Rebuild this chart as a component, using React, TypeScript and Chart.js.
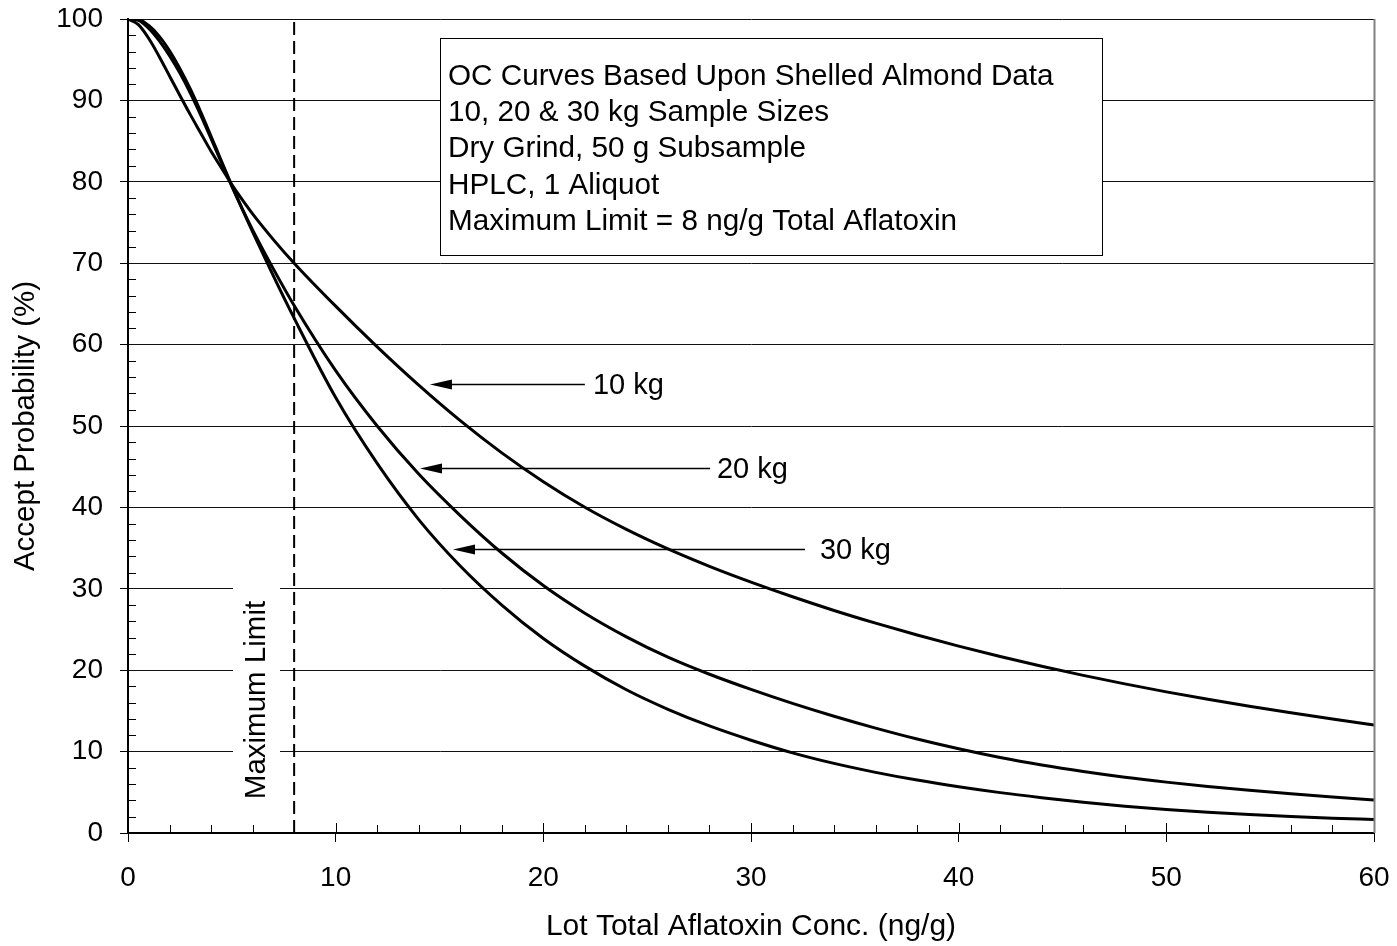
import React, { useEffect, useRef } from "react";
import { Chart, registerables } from "chart.js";

Chart.register(...registerables);

// Lot total aflatoxin concentration (ng/g)
const concentrations = [0, 0.5, 1, 1.5, 2, 2.5, 3, 3.5, 4, 4.5, 5, 5.5, 6, 7, 8, 10, 12, 14, 16, 18, 20, 22, 24, 26, 28, 30, 32, 34, 36, 38, 40, 42, 44, 46, 48, 50, 52, 54, 56, 58, 60];
// Accept probability (%) for each sample size
const accept10kg = [100, 99.3, 97.6, 95.4, 93.0, 90.6, 88.25, 86.0, 83.75, 81.7, 79.65, 77.8, 76.05, 72.9, 70.0, 64.72, 59.72, 55.02, 50.66, 46.7, 43.16, 40.02, 37.3, 34.9, 32.76, 30.82, 29.02, 27.34, 25.78, 24.32, 22.96, 21.68, 20.48, 19.36, 18.32, 17.34, 16.42, 15.56, 14.76, 14.0, 13.28];
const accept20kg = [100, 99.85, 98.85, 97.35, 95.5, 93.35, 90.9, 88.2, 85.3, 82.35, 79.45, 76.7, 74.1, 69.3, 64.8, 56.8, 50.0, 44.1, 39.0, 34.4, 30.4, 27.0, 24.1, 21.6, 19.5, 17.64, 15.92, 14.34, 12.88, 11.54, 10.34, 9.27, 8.35, 7.55, 6.85, 6.25, 5.72, 5.25, 4.82, 4.42, 4.05];
const accept30kg = [100, 99.95, 99.2, 97.9, 96.1, 93.9, 91.4, 88.6, 85.6, 82.55, 79.55, 76.65, 73.85, 68.45, 63.25, 53.5, 45.4, 38.5, 32.8, 28.0, 23.9, 20.5, 17.6, 15.2, 13.15, 11.4, 9.85, 8.55, 7.45, 6.5, 5.68, 4.96, 4.34, 3.78, 3.3, 2.9, 2.56, 2.27, 2.02, 1.82, 1.65];

const maximumLimit = 8;
const maximumLimitLabel = "Maximum Limit";

const xTitle = "Lot Total Aflatoxin Conc. (ng/g)";
const yTitle = "Accept Probability (%)";

const boxLines = [
  "OC Curves Based Upon Shelled Almond Data",
  "10, 20 & 30 kg Sample Sizes",
  "Dry Grind, 50 g Subsample",
  "HPLC, 1 Aliquot",
  "Maximum Limit = 8 ng/g Total Aflatoxin",
];

// Arrow annotations (data coordinates)
const arrowLabels = ["10 kg", "20 kg", "30 kg"];
const arrowY = [55.2, 44.9, 34.85];
const arrowTipX = [14.54, 14.06, 15.65];
const arrowTailX = [22.0, 28.03, 32.6];
const arrowTextX = [22.39, 28.36, 33.32];

const FONT = "'Liberation Sans', Arial, Helvetica, sans-serif";

const decorPlugin = {
  id: "decor",
  afterDraw(chart: any) {
    const { ctx, chartArea, scales } = chart;
    const { left, right, top, bottom } = chartArea;
    const xs = scales.x;
    const ys = scales.y;
    ctx.save();

    // minor / inner ticks
    ctx.strokeStyle = "#000";
    ctx.lineWidth = 1;
    ctx.beginPath();
    for (let v = 0; v <= 60; v += 2) {
      const px = Math.round(xs.getPixelForValue(v)) + 0.5;
      const len = v % 10 === 0 ? 10 : 8;
      ctx.moveTo(px, bottom);
      ctx.lineTo(px, bottom - len);
    }
    for (let v = 0; v <= 100; v += 2) {
      if (v % 10 === 0) continue;
      const py = Math.round(ys.getPixelForValue(v)) + 0.5;
      ctx.moveTo(left, py);
      ctx.lineTo(left + 8, py);
    }
    ctx.stroke();

    // right frame line
    ctx.strokeStyle = "#808080";
    ctx.lineWidth = 2;
    ctx.beginPath();
    ctx.moveTo(right + 0.5, top);
    ctx.lineTo(right + 0.5, bottom);
    ctx.stroke();

    // info box
    const bx = 440.5, by = 38.5, bw = 662, bh = 217;
    ctx.fillStyle = "#fff";
    ctx.fillRect(bx, by, bw, bh);
    ctx.strokeStyle = "#000";
    ctx.lineWidth = 1;
    ctx.strokeRect(bx, by, bw, bh);
    ctx.fillStyle = "#000";
    ctx.font = `29.7px ${FONT}`;
    ctx.textAlign = "left";
    ctx.textBaseline = "middle";
    boxLines.forEach((line, i) => {
      ctx.fillText(line, 448, 76.5 + i * 36.4);
    });

    // Maximum limit label with white background
    ctx.fillStyle = "#fff";
    ctx.fillRect(233, 586, 47, 226);
    ctx.save();
    ctx.translate(257, 700);
    ctx.rotate(-Math.PI / 2);
    ctx.fillStyle = "#000";
    ctx.textAlign = "center";
    ctx.textBaseline = "middle";
    ctx.font = `29.5px ${FONT}`;
    ctx.fillText(maximumLimitLabel, 0, 0);
    ctx.restore();

    // arrows
    arrowLabels.forEach((label, i) => {
      const y = Math.round(ys.getPixelForValue(arrowY[i])) + 0.5;
      const tip = xs.getPixelForValue(arrowTipX[i]);
      const tail = xs.getPixelForValue(arrowTailX[i]);
      const headLen = 22;
      const headHalf = 5;
      ctx.strokeStyle = "#000";
      ctx.lineWidth = 1.5;
      ctx.beginPath();
      ctx.moveTo(tip + headLen - 2, y);
      ctx.lineTo(tail, y);
      ctx.stroke();
      ctx.fillStyle = "#000";
      ctx.beginPath();
      ctx.moveTo(tip, y);
      ctx.lineTo(tip + headLen, y - headHalf);
      ctx.lineTo(tip + headLen, y + headHalf);
      ctx.closePath();
      ctx.fill();
      ctx.font = `29px ${FONT}`;
      ctx.textAlign = "left";
      ctx.textBaseline = "middle";
      ctx.fillText(label, xs.getPixelForValue(arrowTextX[i]), y + 1);
    });

    ctx.restore();
  },
};

export default function App() {
  const canvasRef = useRef<HTMLCanvasElement | null>(null);

  useEffect(() => {
    const canvas = canvasRef.current;
    if (!canvas) return;
    const toPoints = (vals: number[]) => concentrations.map((c, i) => ({ x: c, y: vals[i] }));
    const curveStyle = {
      showLine: true,
      borderColor: "#000",
      backgroundColor: "#000",
      borderWidth: 3,
      pointRadius: 0,
      cubicInterpolationMode: "monotone" as const,
      fill: false,
    };
    const chart = new Chart(canvas, {
      type: "scatter",
      data: {
        datasets: [
          { label: "10 kg", data: toPoints(accept10kg), ...curveStyle },
          { label: "20 kg", data: toPoints(accept20kg), ...curveStyle },
          { label: "30 kg", data: toPoints(accept30kg), ...curveStyle },
          {
            label: "Maximum Limit",
            data: [
              { x: maximumLimit, y: 0 },
              { x: maximumLimit, y: 100 },
            ],
            showLine: true,
            borderColor: "#000",
            borderWidth: 2,
            borderDash: [13, 6],
            pointRadius: 0,
          },
        ],
      },
      options: {
        responsive: false,
        animation: false,
        devicePixelRatio: 1,
        layout: { padding: { top: 19, right: 23, bottom: 0, left: 0 } },
        plugins: {
          legend: { display: false },
          tooltip: { enabled: false },
        },
        scales: {
          x: {
            type: "linear",
            min: 0,
            max: 60,
            afterFit: (scale: any) => {
              scale.height = 113;
              scale.paddingLeft = 0;
              scale.paddingRight = 0;
            },
            ticks: {
              stepSize: 10,
              color: "#000",
              padding: 19,
              font: { family: FONT, size: 28 },
            },
            grid: {
              drawOnChartArea: false,
              drawTicks: true,
              tickLength: 9,
              tickColor: "#000",
              tickWidth: 1,
            },
            border: { display: true, color: "#000", width: 2 },
            title: {
              display: true,
              text: xTitle,
              color: "#000",
              font: { family: FONT, size: 30 },
              padding: { top: 0, bottom: 1 },
            },
          },
          y: {
            type: "linear",
            min: 0,
            max: 100,
            afterFit: (scale: any) => {
              scale.width = 128;
              scale.paddingTop = 0;
              scale.paddingBottom = 0;
            },
            ticks: {
              stepSize: 10,
              color: "#000",
              padding: 17,
              font: { family: FONT, size: 28 },
            },
            grid: {
              color: "#111",
              lineWidth: 1,
              drawTicks: true,
              tickLength: 8,
              tickColor: "#000",
            },
            border: { display: true, color: "#000", width: 2 },
            title: {
              display: true,
              text: yTitle,
              color: "#000",
              font: { family: FONT, size: 29.5 },
              padding: { top: 8, bottom: 0 },
            },
          },
        },
      },
      plugins: [decorPlugin],
    });
    return () => chart.destroy();
  }, []);

  return (
    <div style={{ position: "absolute", left: 0, top: 0, width: 1397, height: 946, background: "#fff" }}>
      <canvas ref={canvasRef} width={1397} height={946} style={{ display: "block", width: 1397, height: 946 }} />
    </div>
  );
}
